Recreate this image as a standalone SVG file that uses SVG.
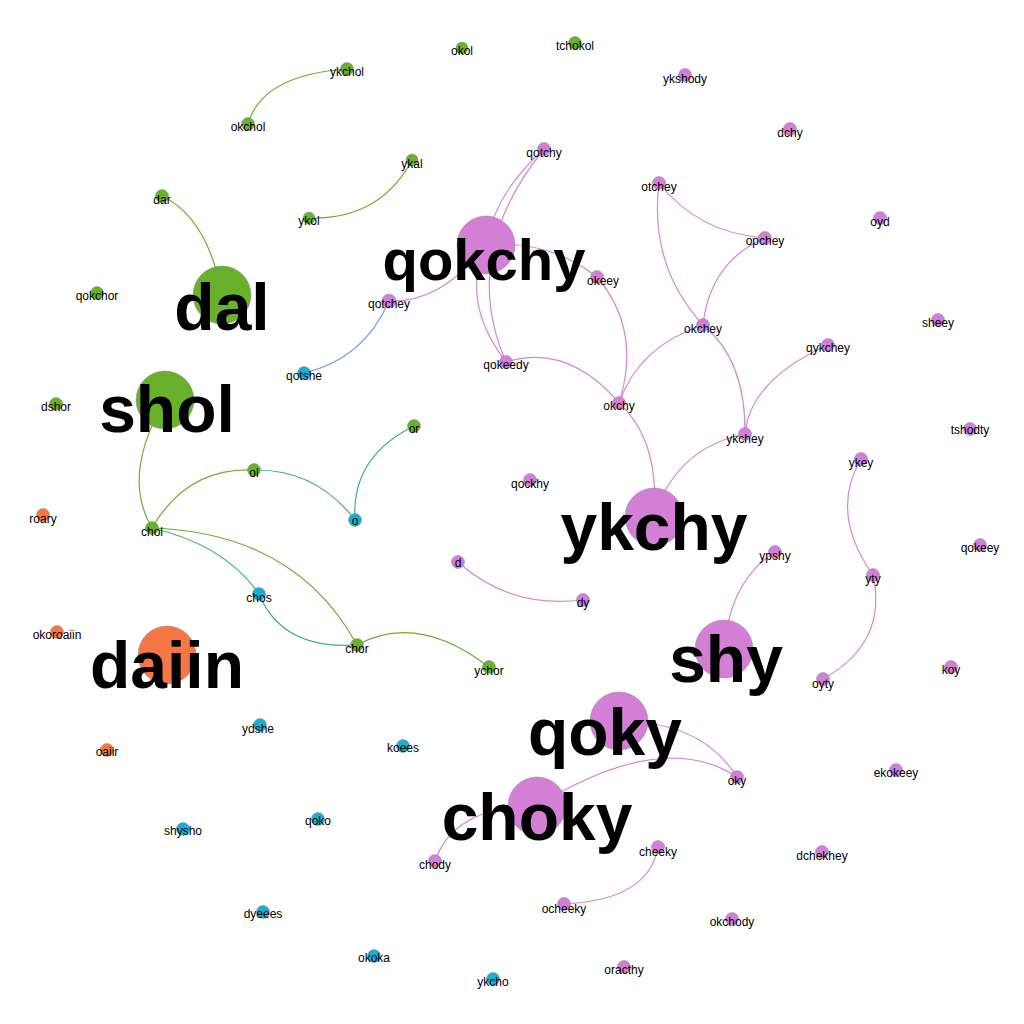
<svg xmlns="http://www.w3.org/2000/svg" width="1024" height="1024" viewBox="0 0 1024 1024">
<style>
.e{fill:none;stroke-width:1.2}
.eg{stroke:#6ab02e}.em{stroke:#d685d8}.et{stroke:#3fb083}.eb{stroke:#739fdf}
circle{stroke:#8a8a8a;stroke-width:0.5}
.g circle{fill:#69b12b}.m circle{fill:#d37fd6}.o circle{fill:#f77645}.c circle{fill:#19b0cf}
text{font-family:"Liberation Sans","DejaVu Sans",sans-serif;fill:#000;text-anchor:middle}
.s text{font-size:12px;dominant-baseline:central}
.b text{font-size:66px;font-weight:bold}
</style>
<rect width="1024" height="1024" fill="#fff"/>
<g id="edges">
<path class="e eg" d="M248,124 Q262,75 347,69"/>
<path class="e eg" d="M412,160 Q380,220 309,218"/>
<path class="e eg" d="M162,196 Q208,218 222,295"/>
<path class="e eg" d="M165,400 Q121,476 152,528"/>
<path class="e eg" d="M152,528 Q187,467 254,470"/>
<path class="e et" d="M254,470 Q316,469 355,520"/>
<path class="e et" d="M355,520 Q351,457 414,426"/>
<path class="e et" d="M152,528 Q225,545 259,594"/>
<path class="e et" d="M259,594 Q282,650 357,645"/>
<path class="e eg" d="M152,528 Q296,533 357,645"/>
<path class="e eg" d="M357,645 Q417,612 489,667"/>
<path class="e eb" d="M389,301 Q364,359 304,373"/>
<path class="e em" d="M486,245 Q442,303 389,301"/>
<path class="e em" d="M486,245 Q495,193 544,149"/>
<path class="e em" d="M544,149 Q459,254 506,362"/>
<path class="e em" d="M486,245 Q460,302 506,362"/>
<path class="e em" d="M486,245 Q548,239 597,277"/>
<path class="e em" d="M597,277 Q642,330 619,403"/>
<path class="e em" d="M506,362 Q568,343 619,403"/>
<path class="e em" d="M703,325 Q639,346 619,403"/>
<path class="e em" d="M703,325 Q746,360 745,434"/>
<path class="e em" d="M828,345 Q750,380 745,434"/>
<path class="e em" d="M619,403 Q660,440 654,517"/>
<path class="e em" d="M654,517 Q676,448 745,434"/>
<path class="e em" d="M659,183 Q649,266 703,325"/>
<path class="e em" d="M659,183 Q698,233 765,238"/>
<path class="e em" d="M765,238 Q710,262 703,325"/>
<path class="e em" d="M724,649 Q730,580 775,552"/>
<path class="e em" d="M861,459 Q829,513 873,575"/>
<path class="e em" d="M873,575 Q888,643 823,679"/>
<path class="e em" d="M458,562 Q510,609 583,600"/>
<path class="e em" d="M619,721 Q702,721 737,777"/>
<path class="e em" d="M537,806 Q663,728 737,777"/>
<path class="e em" d="M537,806 Q454,806 435,861"/>
<path class="e em" d="M658,847 Q649,900 564,904"/>
</g>
<g id="n-okchol" class="g s"><circle cx="248" cy="124" r="6.5"/><text x="248" y="127">okchol</text></g>
<g id="n-ykchol" class="g s"><circle cx="347" cy="69" r="6.5"/><text x="347" y="72">ykchol</text></g>
<g id="n-okol" class="g s"><circle cx="462" cy="48" r="6"/><text x="462" y="51">okol</text></g>
<g id="n-tchokol" class="g s"><circle cx="575" cy="43" r="6.5"/><text x="575" y="46">tchokol</text></g>
<g id="n-ykal" class="g s"><circle cx="412" cy="160" r="6"/><text x="412" y="164">ykal</text></g>
<g id="n-ykol" class="g s"><circle cx="309" cy="218" r="6"/><text x="309" y="221">ykol</text></g>
<g id="n-dar" class="g s"><circle cx="162" cy="196" r="6.5"/><text x="162" y="200">dar</text></g>
<g id="n-qokchor" class="g s"><circle cx="97" cy="293" r="6.5"/><text x="97" y="296">qokchor</text></g>
<g id="n-dshor" class="g s"><circle cx="56" cy="404" r="6.5"/><text x="56" y="407">dshor</text></g>
<g id="n-chol" class="g s"><circle cx="152" cy="528" r="6.5"/><text x="152" y="532">chol</text></g>
<g id="n-ol" class="g s"><circle cx="254" cy="470" r="6.5"/><text x="254" y="473">ol</text></g>
<g id="n-or" class="g s"><circle cx="414" cy="426" r="6.5"/><text x="414" y="429">or</text></g>
<g id="n-chor" class="g s"><circle cx="357" cy="645" r="6.5"/><text x="357" y="649">chor</text></g>
<g id="n-ychor" class="g s"><circle cx="489" cy="667" r="6.5"/><text x="489" y="671">ychor</text></g>
<g id="n-roary" class="o s"><circle cx="43" cy="515" r="6.5"/><text x="43" y="519">roary</text></g>
<g id="n-okoroaiin" class="o s"><circle cx="57" cy="632" r="6.5"/><text x="57" y="635">okoroaiin</text></g>
<g id="n-oaiir" class="o s"><circle cx="107" cy="750" r="6.5"/><text x="107" y="752">oaiir</text></g>
<g id="n-qotshe" class="c s"><circle cx="304" cy="373" r="6.5"/><text x="304" y="376">qotshe</text></g>
<g id="n-o" class="c s"><circle cx="355" cy="520" r="6.5"/><text x="355" y="521">o</text></g>
<g id="n-chos" class="c s"><circle cx="259" cy="594" r="6.5"/><text x="259" y="598">chos</text></g>
<g id="n-ydshe" class="c s"><circle cx="260" cy="725" r="6.5"/><text x="258" y="729">ydshe</text></g>
<g id="n-koees" class="c s"><circle cx="403" cy="746" r="6.5"/><text x="403" y="748">koees</text></g>
<g id="n-qoko" class="c s"><circle cx="318" cy="819" r="6.5"/><text x="318" y="821">qoko</text></g>
<g id="n-shysho" class="c s"><circle cx="183" cy="829" r="6.5"/><text x="183" y="831">shysho</text></g>
<g id="n-dyeees" class="c s"><circle cx="263" cy="912" r="6.5"/><text x="263" y="914">dyeees</text></g>
<g id="n-okoka" class="c s"><circle cx="374" cy="956" r="6.5"/><text x="374" y="958">okoka</text></g>
<g id="n-ykcho" class="c s"><circle cx="493" cy="979" r="6.5"/><text x="493" y="982">ykcho</text></g>
<g id="n-qotchy" class="m s"><circle cx="544" cy="149" r="6.5"/><text x="544" y="153">qotchy</text></g>
<g id="n-okeey" class="m s"><circle cx="597" cy="277" r="6.5"/><text x="603" y="281">okeey</text></g>
<g id="n-qotchey" class="m s"><circle cx="389" cy="301" r="7"/><text x="389" y="304">qotchey</text></g>
<g id="n-otchey" class="m s"><circle cx="659" cy="183" r="6.5"/><text x="659" y="187">otchey</text></g>
<g id="n-opchey" class="m s"><circle cx="765" cy="238" r="6.5"/><text x="765" y="241">opchey</text></g>
<g id="n-okchey" class="m s"><circle cx="703" cy="325" r="6.5"/><text x="703" y="329">okchey</text></g>
<g id="n-dchy" class="m s"><circle cx="790" cy="129" r="6.5"/><text x="790" y="133">dchy</text></g>
<g id="n-oyd" class="m s"><circle cx="880" cy="218" r="6.5"/><text x="880" y="222">oyd</text></g>
<g id="n-sheey" class="m s"><circle cx="938" cy="320" r="6.5"/><text x="938" y="323">sheey</text></g>
<g id="n-ykshody" class="m s"><circle cx="685" cy="75" r="6.5"/><text x="685" y="79">ykshody</text></g>
<g id="n-okchy" class="m s"><circle cx="619" cy="403" r="6.5"/><text x="619" y="406">okchy</text></g>
<g id="n-ykchey" class="m s"><circle cx="745" cy="434" r="6.5"/><text x="745" y="439">ykchey</text></g>
<g id="n-qykchey" class="m s"><circle cx="828" cy="345" r="6.5"/><text x="828" y="348">qykchey</text></g>
<g id="n-qokeedy" class="m s"><circle cx="506" cy="362" r="6.5"/><text x="506" y="365">qokeedy</text></g>
<g id="n-qockhy" class="m s"><circle cx="530" cy="480" r="6.5"/><text x="530" y="484">qockhy</text></g>
<g id="n-d" class="m s"><circle cx="458" cy="562" r="6.5"/><text x="458" y="563">d</text></g>
<g id="n-dy" class="m s"><circle cx="583" cy="600" r="6.5"/><text x="583" y="603">dy</text></g>
<g id="n-ypshy" class="m s"><circle cx="775" cy="552" r="6.5"/><text x="775" y="556">ypshy</text></g>
<g id="n-ykey" class="m s"><circle cx="861" cy="459" r="6.5"/><text x="861" y="463">ykey</text></g>
<g id="n-yty" class="m s"><circle cx="873" cy="575" r="6.5"/><text x="873" y="579">yty</text></g>
<g id="n-oyty" class="m s"><circle cx="823" cy="679" r="6.5"/><text x="823" y="684">oyty</text></g>
<g id="n-tshodty" class="m s"><circle cx="970" cy="429" r="6.5"/><text x="970" y="430">tshodty</text></g>
<g id="n-qokeey" class="m s"><circle cx="980" cy="545" r="6.5"/><text x="980" y="548">qokeey</text></g>
<g id="n-koy" class="m s"><circle cx="951" cy="667" r="6.5"/><text x="951" y="670">koy</text></g>
<g id="n-oky" class="m s"><circle cx="737" cy="777" r="6.5"/><text x="737" y="781">oky</text></g>
<g id="n-cheeky" class="m s"><circle cx="658" cy="847" r="6.5"/><text x="658" y="852">cheeky</text></g>
<g id="n-ocheeky" class="m s"><circle cx="564" cy="904" r="6.5"/><text x="564" y="909">ocheeky</text></g>
<g id="n-okchody" class="m s"><circle cx="732" cy="919" r="6.5"/><text x="732" y="922">okchody</text></g>
<g id="n-oracthy" class="m s"><circle cx="624" cy="967" r="6.5"/><text x="624" y="970">oracthy</text></g>
<g id="n-chody" class="m s"><circle cx="435" cy="861" r="6.5"/><text x="435" y="865">chody</text></g>
<g id="n-ekokeey" class="m s"><circle cx="896" cy="770" r="6.5"/><text x="896" y="773">ekokeey</text></g>
<g id="n-dchekhey" class="m s"><circle cx="822" cy="852" r="6.5"/><text x="822" y="856">dchekhey</text></g>
<g id="n-dal" class="g b"><circle cx="222" cy="295" r="29"/><text x="222" y="330">dal</text></g>
<g id="n-shol" class="g b"><circle cx="165" cy="400" r="29"/><text x="167" y="432">shol</text></g>
<g id="n-daiin" class="o b"><circle cx="167" cy="655" r="29"/><text x="167" y="688">daiin</text></g>
<g id="n-qokchy" class="m b"><circle cx="486" cy="245" r="29"/><text x="484" y="280" style="font-size:58px">qokchy</text></g>
<g id="n-ykchy" class="m b"><circle cx="654" cy="517" r="29"/><text x="654" y="550">ykchy</text></g>
<g id="n-shy" class="m b"><circle cx="724" cy="649" r="29"/><text x="726" y="682">shy</text></g>
<g id="n-qoky" class="m b"><circle cx="619" cy="721" r="29"/><text x="605" y="755">qoky</text></g>
<g id="n-choky" class="m b"><circle cx="537" cy="806" r="29"/><text x="537" y="840">choky</text></g>
</svg>
